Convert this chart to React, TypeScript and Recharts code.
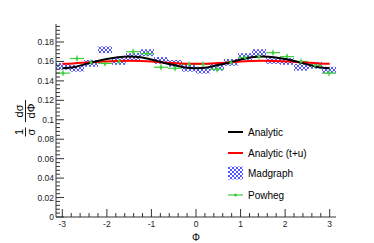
import React from 'react';
import {
  ComposedChart,
  Line,
  Scatter,
  XAxis,
  YAxis,
  ErrorBar,
  ReferenceArea,
} from 'recharts';

const PI = Math.PI;
const X_DOMAIN: [number, number] = [-PI, PI];
const Y_DOMAIN: [number, number] = [0, 0.1985];

// 20 bins over [-pi, pi]
const binCenters = [
  -2.9845, -2.6704, -2.3562, -2.042, -1.7279, -1.4137, -1.0996, -0.7854, -0.4712, -0.1571,
  0.1571, 0.4712, 0.7854, 1.0996, 1.4137, 1.7279, 2.042, 2.3562, 2.6704, 2.9845,
];
const binHalfWidth = 0.1571;

const madgraph = [
  0.155, 0.153, 0.158, 0.172, 0.16, 0.165, 0.169, 0.161, 0.158, 0.153,
  0.151, 0.154, 0.159, 0.165, 0.169, 0.161, 0.16, 0.154, 0.156, 0.151,
];
const madgraphErr = 0.0035;

const powheg = [
  0.148, 0.163, 0.159, 0.158, 0.16, 0.17, 0.168, 0.154, 0.153, 0.157,
  0.157, 0.152, 0.159, 0.164, 0.165, 0.169, 0.165, 0.16, 0.156, 0.148,
];
const powhegErr = 0.003;

const curvePhi = [
  -3, -2.75, -2.5, -2.25, -2, -1.75, -1.5, -1.25, -1, -0.75, -0.5, -0.25, 0,
  0.25, 0.5, 0.75, 1, 1.25, 1.5, 1.75, 2, 2.25, 2.5, 2.75, 3,
];
const analytic = [
  0.153, 0.154, 0.157, 0.16, 0.1625, 0.1643, 0.165, 0.1643, 0.162, 0.159, 0.1563, 0.1538, 0.153,
  0.1538, 0.1563, 0.159, 0.162, 0.1643, 0.165, 0.1643, 0.1625, 0.16, 0.157, 0.154, 0.153,
];
const analyticTU = [
  0.1577, 0.158, 0.1587, 0.1595, 0.16, 0.1605, 0.1607, 0.1605, 0.16, 0.159, 0.1583, 0.1577, 0.1575,
  0.1577, 0.1583, 0.159, 0.16, 0.1605, 0.1607, 0.1605, 0.16, 0.1595, 0.1587, 0.158, 0.1577,
];

const xMajorTicks = [-3, -2, -1, 0, 1, 2, 3];
const yMajorTicks = [0, 0.02, 0.04, 0.06, 0.08, 0.1, 0.12, 0.14, 0.16, 0.18];
const xTicks = Array.from({ length: 31 }, (_, i) => +(-3 + i * 0.2).toFixed(2));
const yTicks = Array.from({ length: 50 }, (_, i) => +(i * 0.004).toFixed(3));

const legendItems = [
  { name: 'Analytic', kind: 'line', color: '#000000' },
  { name: 'Analytic (t+u)', kind: 'line', color: '#ff0000' },
  { name: 'Madgraph', kind: 'hatch', color: '#0000ff' },
  { name: 'Powheg', kind: 'marker', color: '#3fcf3f' },
];

const analyticData = curvePhi.map((x, i) => ({ x, y: analytic[i] }));
const analyticTUData = curvePhi.map((x, i) => ({ x, y: analyticTU[i] }));
const powhegData = binCenters.map((x, i) => ({ x, y: powheg[i], ex: binHalfWidth, ey: powhegErr }));

const FONT = '"Liberation Sans", Arial, Helvetica, sans-serif';
const AXIS_COLOR = '#333333';
const GREEN = '#3fcf3f';
const HATCH = '#2a2aff';

const isIn = (v: number, list: number[]) => list.some((m) => Math.abs(m - v) < 1e-6);

const YTick = (props: any) => {
  const { x, y, payload } = props;
  const v = payload.value as number;
  const major = isIn(v, yMajorTicks);
  const label = v === 0 ? '0' : String(+v.toFixed(2));
  return (
    <g>
      <line x1={x} x2={x + (major ? 8 : 4)} y1={y} y2={y} stroke={AXIS_COLOR} strokeWidth={1} />
      {major && (
        <text x={x - 2} y={y + 3} textAnchor="end" fontSize={8.5} fontFamily={FONT} fill="#222">
          {label}
        </text>
      )}
    </g>
  );
};

const XTick = (props: any) => {
  const { x, y, payload } = props;
  const v = payload.value as number;
  const major = isIn(v, xMajorTicks);
  return (
    <g>
      <line x1={x} x2={x} y1={y} y2={y - (major ? 8 : 4)} stroke={AXIS_COLOR} strokeWidth={1} />
      {major && (
        <text x={x} y={y + 10} textAnchor="middle" fontSize={8.5} fontFamily={FONT} fill="#222">
          {String(Math.round(v))}
        </text>
      )}
    </g>
  );
};

const YTitle = () => (
  <g transform="translate(25,117) rotate(-90)" fontFamily={FONT} fill="#000">
    <text x={-15} y={-2.5} textAnchor="middle" fontSize={11}>1</text>
    <line x1={-19.5} x2={-10.5} y1={0.5} y2={0.5} stroke="#000" strokeWidth={0.9} />
    <text x={-15} y={9.5} textAnchor="middle" fontSize={11}>σ</text>
    <text x={6} y={-2.5} textAnchor="middle" fontSize={11}>dσ</text>
    <line x1={-5} x2={17} y1={0.5} y2={0.5} stroke="#000" strokeWidth={0.9} />
    <text x={6} y={9.5} textAnchor="middle" fontSize={11}>dΦ</text>
  </g>
);

const XTitle = () => (
  <text x={196} y={241} textAnchor="middle" fontSize={10} fontFamily={FONT} fill="#000">
    Φ
  </text>
);

const LegendBox = () => (
  <svg width={140} height={90} style={{ position: 'absolute', left: 225, top: 120 }}>
    <defs>
      <pattern id="hatchLegend" width={4} height={4} patternUnits="userSpaceOnUse">
        <path d="M0,0 L4,4 M4,0 L0,4" stroke={HATCH} strokeWidth={0.8} />
      </pattern>
    </defs>
    {legendItems.map((it, i) => {
      const cy = [12, 33, 53, 75][i];
      return (
        <g key={it.name}>
          {it.kind === 'line' && (
            <line x1={3} x2={18} y1={cy} y2={cy} stroke={it.color} strokeWidth={2} />
          )}
          {it.kind === 'hatch' && (
            <rect x={3} y={cy - 6.5} width={15} height={13} fill="url(#hatchLegend)" />
          )}
          {it.kind === 'marker' && (
            <g>
              <line x1={3} x2={18} y1={cy} y2={cy} stroke={it.color} strokeWidth={1.2} />
              <circle cx={10.5} cy={cy} r={1.6} fill={it.color} />
            </g>
          )}
          <text x={23} y={cy + 3.5} fontSize={10} fontFamily={FONT} fill="#000">
            {it.name}
          </text>
        </g>
      );
    })}
  </svg>
);

export default function App() {
  return (
    <div style={{ position: 'absolute', left: 0, top: 0, width: 374, height: 243, background: '#fff' }}>
      <ComposedChart
        width={374}
        height={243}
        margin={{ top: 24, right: 38, bottom: 0, left: 0 }}
      >
        <defs>
          <pattern id="hatchBlue" width={4} height={4} patternUnits="userSpaceOnUse">
            <path d="M0,0 L4,4 M4,0 L0,4" stroke={HATCH} strokeWidth={0.8} />
          </pattern>
        </defs>
        <XAxis
          dataKey="x"
          type="number"
          domain={X_DOMAIN}
          allowDataOverflow
          ticks={xTicks}
          interval={0}
          tickLine={false}
          tickSize={0}
          tickMargin={0}
          tick={<XTick />}
          axisLine={{ stroke: AXIS_COLOR, strokeWidth: 1 }}
          height={26}
          label={<XTitle />}
        />
        <XAxis
          xAxisId="top"
          orientation="top"
          type="number"
          domain={X_DOMAIN}
          allowDataOverflow
          tick={false}
          tickLine={false}
          height={0}
          axisLine={{ stroke: AXIS_COLOR, strokeWidth: 1 }}
        />
        <YAxis
          type="number"
          domain={Y_DOMAIN}
          allowDataOverflow
          ticks={yTicks}
          interval={0}
          tickLine={false}
          tickSize={0}
          tickMargin={0}
          tick={<YTick />}
          axisLine={{ stroke: AXIS_COLOR, strokeWidth: 1 }}
          width={56}
          label={<YTitle />}
        />
        <YAxis
          yAxisId="right"
          orientation="right"
          type="number"
          domain={Y_DOMAIN}
          allowDataOverflow
          tick={false}
          tickLine={false}
          width={0}
          axisLine={{ stroke: AXIS_COLOR, strokeWidth: 1 }}
        />
        {binCenters.map((c, i) => (
          <ReferenceArea
            key={'mg' + i}
            x1={c - binHalfWidth}
            x2={c + binHalfWidth}
            y1={madgraph[i] - madgraphErr}
            y2={madgraph[i] + madgraphErr}
            fill="url(#hatchBlue)"
            fillOpacity={1}
            stroke="none"
            ifOverflow="visible"
          />
        ))}
        <Scatter
          data={powhegData}
          dataKey="y"
          fill={GREEN}
          isAnimationActive={false}
          shape={(p: any) => <circle cx={p.cx} cy={p.cy} r={1.5} fill={GREEN} />}
        >
          <ErrorBar dataKey="ey" direction="y" width={0} stroke={GREEN} strokeWidth={1.2} />
          <ErrorBar dataKey="ex" direction="x" width={0} stroke={GREEN} strokeWidth={1.2} />
        </Scatter>
        <Line
          data={analyticTUData}
          dataKey="y"
          type="monotone"
          stroke="#ff0000"
          strokeWidth={2}
          dot={false}
          isAnimationActive={false}
        />
        <Line
          data={analyticData}
          dataKey="y"
          type="monotone"
          stroke="#000000"
          strokeWidth={2}
          dot={false}
          isAnimationActive={false}
        />
      </ComposedChart>
      <LegendBox />
    </div>
  );
}
